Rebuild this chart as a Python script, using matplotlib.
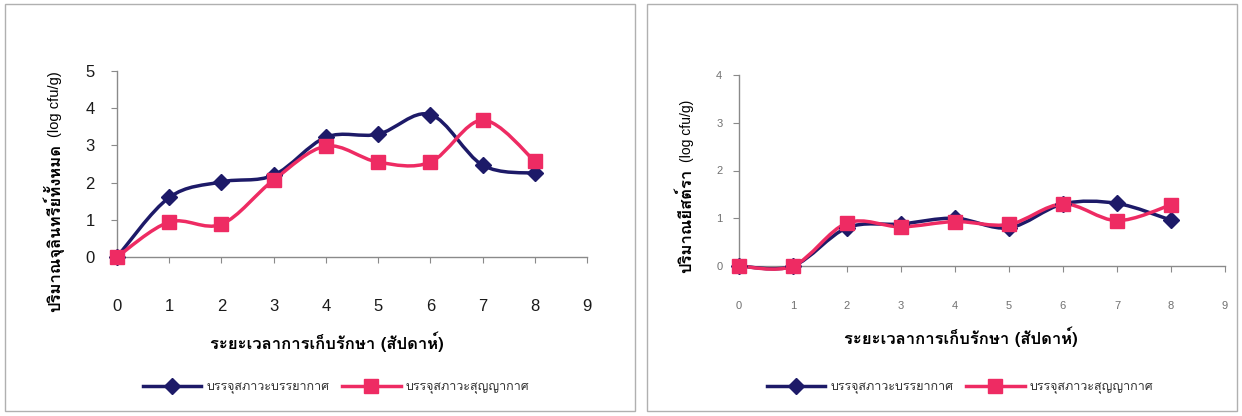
import numpy as np
import matplotlib
matplotlib.use("Agg")
import matplotlib.pyplot as plt
from matplotlib.path import Path
from matplotlib.patches import PathPatch, Rectangle
from matplotlib.lines import Line2D

THAI = ["Loma", "DejaVu Sans"]
plt.rcParams["font.family"] = ["Liberation Sans", "Loma", "DejaVu Sans"]

weeks = [0, 1, 2, 3, 4, 5, 6, 7, 8]

# total microbes (log cfu/g)
total_air = [0.0, 1.6, 2.02, 2.2, 3.22, 3.3, 3.83, 2.47, 2.25]
total_vac = [0.0, 0.94, 0.88, 2.07, 2.98, 2.55, 2.55, 3.68, 2.58]

# yeast and mould (log cfu/g)
yeast_air = [0.0, 0.0, 0.8, 0.88, 1.0, 0.8, 1.3, 1.31, 0.96]
yeast_vac = [0.0, 0.0, 0.9, 0.82, 0.93, 0.87, 1.3, 0.95, 1.28]

lab_air = "บรรจุสภาวะบรรยากาศ"
lab_vac = "บรรจุสภาวะสุญญากาศ"
xlab = "ระยะเวลาการเก็บรักษา (สัปดาห์)"
ylab_left = "ปริมาณจุลินทรีย์ทั้งหมด"
ylab_right = "ปริมาณยีสต์รา"

BLUE = "#1d1a68"
RED = "#ee2b63"


def smooth_line(ax, x, y, color):
    # catmull-rom style bezier through the points, like excel's smoothed lines
    p = np.column_stack([x, y]).astype(float)
    ext = np.vstack([p[0], p, p[-1]])
    verts = [tuple(p[0])]
    codes = [Path.MOVETO]
    for i in range(len(p) - 1):
        p0, p1, p2, p3 = ext[i], ext[i + 1], ext[i + 2], ext[i + 3]
        c1 = p1 + (p2 - p0) / 6.0
        c2 = p2 - (p3 - p1) / 6.0
        verts += [tuple(c1), tuple(c2), tuple(p2)]
        codes += [Path.CURVE4] * 3
    ax.add_patch(PathPatch(Path(verts, codes), fill=False, ec=color, lw=2.5,
                           clip_on=False, zorder=3, capstyle="round", joinstyle="round"))


def panel(ax, ya, yv, ymax, tsize, tcolor, xpad, ypad):
    smooth_line(ax, weeks, ya, BLUE)
    smooth_line(ax, weeks, yv, RED)
    ax.plot(weeks, ya, ls="none", marker="D", ms=8.5, color=BLUE, clip_on=False, zorder=4)
    ax.plot(weeks, yv, ls="none", marker="s", ms=9.5, color=RED, clip_on=False, zorder=5)
    ax.set_xlim(0, 9)
    ax.set_ylim(0, ymax)
    ax.set_xticks(range(10))
    ax.set_yticks(range(ymax + 1))
    for s in ["top", "right"]:
        ax.spines[s].set_visible(False)
    for s in ["left", "bottom"]:
        ax.spines[s].set_color("#8a8a8a")
        ax.spines[s].set_linewidth(1.0)
    ax.tick_params(axis="x", direction="out", length=4, color="#8a8a8a",
                   labelsize=tsize, labelcolor=tcolor, pad=xpad)
    ax.tick_params(axis="y", direction="out", length=4, color="#8a8a8a",
                   labelsize=tsize, labelcolor=tcolor, pad=ypad)


fig = plt.figure(figsize=(12.42, 4.16), dpi=100)
W, H = 1242.0, 416.0

# panel borders
for x0, x1 in [(5, 635), (647, 1237)]:
    fig.patches.append(Rectangle((x0 / W, 1 - 411 / H), (x1 - x0) / W, 407 / H,
                                 transform=fig.transFigure, fill=False,
                                 ec="#b0b0b0", lw=1.0))

ax1 = fig.add_axes([117 / W, 1 - 257 / H, 470 / W, 186 / H])
panel(ax1, total_air, total_vac, 5, 12, "#1a1a1a", 26, 12)

ax2 = fig.add_axes([739 / W, 1 - 266 / H, 486 / W, 191 / H])
panel(ax2, yeast_air, yeast_vac, 4, 8, "#707070", 21, 8)

# axis titles
fig.text(327 / W, 1 - 342 / H, xlab, family=THAI, weight="bold", fontsize=12,
         ha="center", va="center")
fig.text(961 / W, 1 - 337 / H, xlab, family=THAI, weight="bold", fontsize=12,
         ha="center", va="center")

fig.text(53 / W, 1 - 228 / H, ylab_left, family=THAI, weight="bold", fontsize=12,
         rotation=90, ha="center", va="center")
fig.text(55 / W, 1 - 104 / H, "(log cfu/g)", fontsize=10.5, rotation=90,
         ha="center", va="center")
fig.text(685 / W, 1 - 221 / H, ylab_right, family=THAI, weight="bold", fontsize=12,
         rotation=90, ha="center", va="center")
fig.text(687 / W, 1 - 131 / H, "(log cfu/g)", fontsize=10, rotation=90,
         ha="center", va="center")

# legends
handles = [Line2D([], [], color=BLUE, lw=2.5, marker="D", ms=8.5),
           Line2D([], [], color=RED, lw=2.5, marker="s", ms=9.5)]
for cx in [336, 960]:
    leg = fig.legend(handles, [lab_air, lab_vac], loc="center",
                     bbox_to_anchor=(cx / W, 1 - 388 / H), ncol=2, frameon=False,
                     handlelength=4.7, handletextpad=0.4, columnspacing=1.0,
                     prop={"family": THAI, "size": 9})
    for t in leg.get_texts():
        t.set_color("#333333")

fig.savefig("out.png", dpi=100)
